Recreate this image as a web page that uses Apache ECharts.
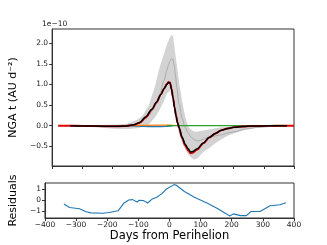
<!DOCTYPE html>
<html><head><meta charset="utf-8">
<script src="https://cdn.jsdelivr.net/npm/echarts@6/dist/echarts.min.js"></script>
<style>html,body{margin:0;padding:0;background:#fff}#c{width:327px;height:245px}</style>
</head><body><div id="c"></div>
<script>
// Uncertainty band (x in days, y in 1e-10 AU/d^2)
const bandX = [-340,-300,-260,-220,-180,-150,-120,-100,-80,-60,-45,-30,-20,-10,-5,0,10,20,30,40,50,60,70,80,90,100,120,140,160,180,200,240,280,320,377];
const bandLower = [0,-0.02,-0.04,-0.06,-0.08,-0.08,-0.06,-0.03,0.03,0.2,0.38,0.6,0.78,0.85,0.8,0.6,0.15,-0.2,-0.42,-0.58,-0.7,-0.78,-0.82,-0.8,-0.72,-0.64,-0.54,-0.43,-0.33,-0.25,-0.19,-0.1,-0.05,-0.02,0];
const bandUpper = [0.01,0.01,0.01,0.02,0.03,0.05,0.14,0.25,0.5,0.95,1.4,1.75,1.98,2.15,2.2,2.18,1.6,1.05,0.6,0.22,-0.02,-0.1,-0.14,-0.15,-0.13,-0.12,-0.09,-0.06,-0.04,-0.03,-0.02,-0.01,0,0,0];
// Mean of the sampled curves (grey)
const meanX = [-340,-300,-260,-220,-180,-150,-120,-100,-80,-60,-45,-30,-20,-15,-10,-6,-3,0,4,8,12,20,30,40,50,60,70,80,90,100,120,140,160,180,200,240,280,320,377];
const meanY = [0,0,-0.01,-0.02,-0.02,-0.01,0.04,0.12,0.25,0.48,0.75,1.1,1.36,1.48,1.57,1.62,1.63,1.6,1.46,1.22,0.95,0.52,0.18,-0.04,-0.18,-0.28,-0.34,-0.37,-0.36,-0.33,-0.28,-0.25,-0.22,-0.18,-0.15,-0.08,-0.04,-0.02,0];
// Best-fit model (black) and full model (red)
const modelX = [-340,-300,-250,-200,-160,-130,-110,-90,-70,-55,-40,-30,-20,-15,-10,-5,0,5,10,15,20,30,40,50,58,65,80,100,120,140,160,180,200,230,260,300,340,377];
const modelY = [0,-0.005,-0.01,-0.015,-0.01,0.02,0.08,0.22,0.4,0.57,0.76,0.9,1.01,1.05,1.04,0.88,0.66,0.43,0.23,0.07,-0.05,-0.28,-0.45,-0.56,-0.64,-0.63,-0.56,-0.42,-0.28,-0.19,-0.11,-0.07,-0.04,-0.02,-0.01,-0.005,-0.002,0];
const fullX = [-380,-340,-300,-250,-200,-160,-130,-110,-90,-70,-55,-40,-30,-20,-15,-10,-5,0,5,10,15,20,30,40,50,58,65,80,100,120,140,160,180,200,230,260,300,340,377,400];
const fullY = [0,0,-0.005,-0.01,-0.015,-0.01,0.02,0.07,0.2,0.39,0.56,0.76,0.9,1.02,1.06,1.05,0.9,0.68,0.45,0.24,0.07,-0.06,-0.3,-0.48,-0.6,-0.67,-0.66,-0.58,-0.43,-0.29,-0.19,-0.11,-0.07,-0.04,-0.02,-0.01,-0.005,-0.002,0,0];
// Component curves
const blueX = [-160,-120,-80,-40,-10,0];
const blueY = [0,-0.01,-0.02,-0.02,-0.01,0];
const orangeX = [-160,-100,-50,-10,10];
const orangeY = [0,0.008,0.012,0.012,0];
const greenX = [-20,377];
const greenY = [0,0];
// Residuals
const residX = [-339,-321,-289,-268,-252,-215,-194,-165,-147,-131,-118,-104,-97,-83,-70,-57,-41,-25,-10,15,22,48,80,122,154,186,194,205,228,247,262,291,323,355,374];
const residY = [-0.34,-0.66,-0.78,-1.06,-1.16,-1.19,-1.13,-0.97,-0.28,0.03,0.06,-0.16,0,-0.03,-0.25,0.09,0.28,0.59,1.03,1.44,1.38,0.81,0.28,-0.28,-0.75,-1.31,-1.44,-1.25,-1.41,-1.41,-1.03,-1.03,-0.5,-0.41,-0.22];
// Tick values
const xTicks = [-400,-300,-200,-100,0,100,200,300,400];
const topYTicks = [-0.5,0,0.5,1,1.5,2];
const resYTicks = [-1,0,1];

const pairs = (xs, ys) => xs.map((x, i) => [x, ys[i]]);
const minus = s => String(s).replace('-', '\u2212');
const FONT = 'DejaVu Sans';
const AX = '#333';

const chart = echarts.init(document.getElementById('c'), null, {renderer: 'canvas'});
const lineS = (data, color, width, z, smooth) => ({
  type: 'line', data, xAxisIndex: 0, yAxisIndex: 0, showSymbol: false, symbol: 'none',
  smooth: smooth || false, smoothMonotone: 'x',
  lineStyle: {color, width}, silent: true, z, animation: false
});
chart.setOption({
  animation: false,
  grid: [
    {left: 41, top: 29, width: 253, height: 137, show: true, borderColor: AX, borderWidth: 1, backgroundColor: 'transparent'},
    {left: 41, top: 183, width: 253, height: 35, show: true, borderColor: AX, borderWidth: 1, backgroundColor: 'transparent'}
  ],
  xAxis: [
    {type: 'value', gridIndex: 0, min: -400, max: 400, interval: 100,
     axisLine: {show: true, onZero: false, lineStyle: {color: AX}}, axisTick: {show: true, length: 3, lineStyle: {color: AX}},
     axisLabel: {show: false}, splitLine: {show: false}},
    {type: 'value', gridIndex: 1, min: -400, max: 400, interval: 100,
     axisLine: {show: true, onZero: false, lineStyle: {color: AX}}, axisTick: {show: true, length: 3, lineStyle: {color: AX}},
     axisLabel: {show: true, margin: 3, fontSize: 7.5, fontFamily: FONT, color: '#222', formatter: v => minus(v), customValues: xTicks},
     splitLine: {show: false},
     name: 'Days from Perihelion', nameLocation: 'middle', nameGap: 12,
     nameTextStyle: {fontSize: 11.5, fontFamily: FONT, color: '#000'}}
  ],
  yAxis: [
    {type: 'value', gridIndex: 0, min: -0.98, max: 2.35,
     axisLine: {show: true, onZero: false, lineStyle: {color: AX}},
     axisTick: {show: true, length: 3, lineStyle: {color: AX}, customValues: topYTicks},
     axisLabel: {show: true, margin: 4, fontSize: 7.5, fontFamily: FONT, color: '#222', formatter: v => minus(v.toFixed(1)), customValues: topYTicks},
     splitLine: {show: false},
     name: 'NGA t (AU d\u207B\u00B2)', nameLocation: 'middle', nameGap: 24,
     nameTextStyle: {fontSize: 11, fontFamily: FONT, color: '#000'}},
    {type: 'value', gridIndex: 1, min: -1.63, max: 1.59,
     axisLine: {show: true, onZero: false, lineStyle: {color: AX}},
     axisTick: {show: true, length: 3, lineStyle: {color: AX}, customValues: resYTicks},
     axisLabel: {show: true, margin: 4, fontSize: 7.5, fontFamily: FONT, color: '#222', formatter: v => minus(v), customValues: resYTicks},
     splitLine: {show: false},
     name: 'Residuals', nameLocation: 'middle', nameGap: 19,
     nameTextStyle: {fontSize: 11, fontFamily: FONT, color: '#000'}}
  ],
  graphic: [
    {type: 'text', left: 42, top: 20, style: {text: '1e\u221210', font: '7.5px "DejaVu Sans"', fill: '#222'}}
  ],
  series: [
    {type: 'custom', xAxisIndex: 0, yAxisIndex: 0, silent: true, z: 1, data: [[0, 0]],
     renderItem: function (params, api) {
       const pts = [];
       for (let i = 0; i < bandX.length; i++) pts.push(api.coord([bandX[i], bandUpper[i]]));
       for (let i = bandX.length - 1; i >= 0; i--) pts.push(api.coord([bandX[i], bandLower[i]]));
       return {type: 'polygon', shape: {points: pts, smooth: 0}, style: {fill: '#d3d3d3', stroke: null}};
     }},
    lineS(pairs(meanX, meanY), '#ababab', 1, 2, 0.3),
    lineS(pairs(blueX, blueY), '#1f77b4', 1.3, 3),
    lineS(pairs(orangeX, orangeY), '#ff7f0e', 1.3, 3),
    lineS(pairs(greenX, greenY), '#2ca02c', 1.3, 3),
    lineS(pairs(fullX, fullY), '#e00000', 1.9, 4, 0.3),
    lineS(pairs(modelX, modelY), '#000000', 1.5, 5, 0.3),
    {type: 'line', xAxisIndex: 1, yAxisIndex: 1, data: pairs(residX, residY), showSymbol: false, symbol: 'none',
     lineStyle: {color: '#1f77b4', width: 1.1}, silent: true, z: 3}
  ]
});
</script></body></html>
